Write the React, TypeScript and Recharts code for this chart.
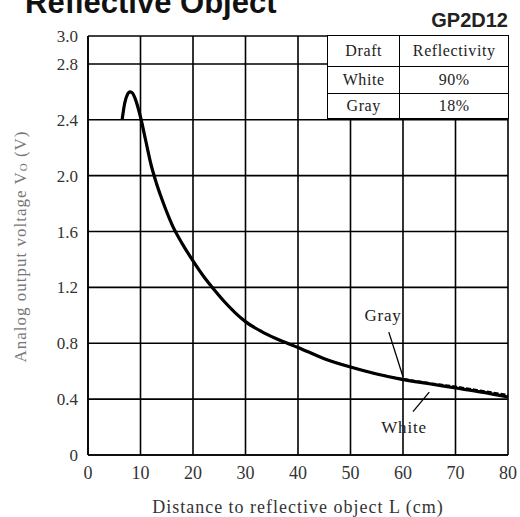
import {
  LineChart,
  Line,
  XAxis,
  YAxis,
  CartesianGrid,
  ReferenceLine,
  ReferenceDot,
} from "recharts";

// distance L (cm)
const distances = [
  6.5, 7, 7.5, 8, 8.5, 9, 10, 11, 12, 13, 14, 15, 16, 18, 20, 22, 24, 26, 28,
  30, 33, 36, 40, 45, 50, 55, 60, 65, 70, 75, 80,
];
// output voltage (V) for white paper (90%)
const whiteVolts = [
  2.4, 2.52, 2.58, 2.6, 2.59, 2.55, 2.42, 2.25, 2.08, 1.95, 1.84, 1.74, 1.65,
  1.51, 1.39, 1.28, 1.185, 1.097, 1.02, 0.955, 0.885, 0.83, 0.77, 0.69, 0.63,
  0.58, 0.54, 0.51, 0.48, 0.45, 0.415,
];
// output voltage (V) for gray paper (18%)
const grayVolts = [
  2.4, 2.52, 2.58, 2.6, 2.59, 2.55, 2.42, 2.25, 2.08, 1.95, 1.84, 1.74, 1.65,
  1.51, 1.39, 1.28, 1.185, 1.097, 1.02, 0.955, 0.885, 0.83, 0.77, 0.69, 0.63,
  0.58, 0.545, 0.515, 0.49, 0.46, 0.43,
];

const xTicks = [0, 10, 20, 30, 40, 50, 60, 70, 80];
const yTicks = [0, 0.4, 0.8, 1.2, 1.6, 2.0, 2.4, 2.8, 3.0];

const tableRows = [
  ["Draft", "Reflectivity"],
  ["White", "90%"],
  ["Gray", "18%"],
];

const data = distances.map((L, i) => ({
  L,
  white: whiteVolts[i],
  gray: grayVolts[i],
}));

const serif = "'Liberation Serif', 'DejaVu Serif', serif";

const YTitle = (props: any) => {
  const vb = props.viewBox || { y: 36, height: 419 };
  const cx = 20;
  const cy = vb.y + vb.height / 2 + 1;
  return (
    <text
      x={cx}
      y={cy}
      transform={`rotate(-90 ${cx} ${cy})`}
      textAnchor="middle"
      dominantBaseline="central"
      fontFamily={serif}
      fontSize={17}
      letterSpacing={1}
      fill="#777"
    >
      Analog output voltage V
      <tspan fontSize={11} dy={3}>
        O
      </tspan>
      <tspan dy={-3}> (V)</tspan>
    </text>
  );
};

const App = () => {
  const rowHeights = [31, 27, 25];
  return (
    <div
      style={{
        position: "absolute",
        left: 0,
        top: 0,
        width: 520,
        height: 517,
        background: "#fff",
        overflow: "hidden",
      }}
    >
      <LineChart
        width={520}
        height={517}
        data={data}
        margin={{ top: 36, right: 12, bottom: 0, left: 0 }}
      >
        <CartesianGrid stroke="#000" strokeWidth={1.6} strokeOpacity={1} />
        <XAxis
          dataKey="L"
          type="number"
          domain={[0, 80]}
          ticks={xTicks}
          height={62}
          tickLine={false}
          tickMargin={5}
          axisLine={{ stroke: "#000", strokeWidth: 1.6 }}
          tick={{ fill: "#333", fontFamily: serif, fontSize: 18 }}
          label={{
            value: "Distance to reflective object L (cm)",
            position: "insideBottom",
            offset: 4,
            fill: "#333",
            fontFamily: serif,
            fontSize: 18,
            letterSpacing: 1,
          }}
        />
        <YAxis
          type="number"
          domain={[0, 3]}
          ticks={yTicks}
          width={88}
          tickLine={false}
          tickMargin={4}
          axisLine={{ stroke: "#000", strokeWidth: 1.6 }}
          tick={{ fill: "#333", fontFamily: serif, fontSize: 17 }}
          tickFormatter={(v: number) => (v === 0 ? "0" : v.toFixed(1))}
          label={<YTitle />}
        />
        <Line
          dataKey="gray"
          type="monotone"
          stroke="#000"
          strokeWidth={2}
          strokeDasharray="5 2"
          dot={false}
          isAnimationActive={false}
        />
        <Line
          dataKey="white"
          type="monotone"
          stroke="#000"
          strokeWidth={3.2}
          dot={false}
          isAnimationActive={false}
        />
        <ReferenceLine
          segment={[
            { x: 57.3, y: 0.88 },
            { x: 60, y: 0.56 },
          ]}
          stroke="#000"
          strokeWidth={1.3}
        />
        <ReferenceLine
          segment={[
            { x: 61.9, y: 0.31 },
            { x: 65, y: 0.45 },
          ]}
          stroke="#000"
          strokeWidth={1.3}
        />
        <ReferenceDot
          x={56.2}
          y={1.0}
          r={0}
          stroke="none"
          label={{
            value: "Gray",
            position: "center",
            fill: "#222",
            fontFamily: serif,
            fontSize: 17,
            letterSpacing: 0.8,
          }}
        />
        <ReferenceDot
          x={60.2}
          y={0.2}
          r={0}
          stroke="none"
          label={{
            value: "White",
            position: "center",
            fill: "#222",
            fontFamily: serif,
            fontSize: 17,
            letterSpacing: 0.8,
          }}
        />
      </LineChart>

      <div
        style={{
          position: "absolute",
          left: 25,
          top: -13,
          fontFamily: "'Liberation Sans', Arial, sans-serif",
          fontWeight: "bold",
          fontSize: 31,
          lineHeight: 1,
          color: "#111",
          whiteSpace: "nowrap",
        }}
      >
        Reflective Object
      </div>
      <div
        style={{
          position: "absolute",
          right: 12,
          top: 10,
          fontFamily: "'Liberation Sans', Arial, sans-serif",
          fontWeight: "bold",
          fontSize: 20,
          lineHeight: 1,
          color: "#222",
        }}
      >
        GP2D12
      </div>

      <table
        style={{
          position: "absolute",
          left: 327,
          top: 35,
          width: 182,
          borderCollapse: "collapse",
          background: "#fff",
          fontFamily: serif,
          fontSize: 16,
          letterSpacing: 0.6,
          color: "#222",
        }}
      >
        <tbody>
          {tableRows.map((row, i) => (
            <tr key={row[0]} style={{ height: rowHeights[i] }}>
              {row.map((cell, j) => (
                <td
                  key={cell}
                  style={{
                    border: "1.6px solid #000",
                    textAlign: "center",
                    padding: 0,
                    width: j === 0 ? 72 : 108,
                  }}
                >
                  {cell}
                </td>
              ))}
            </tr>
          ))}
        </tbody>
      </table>
    </div>
  );
};

export default App;
